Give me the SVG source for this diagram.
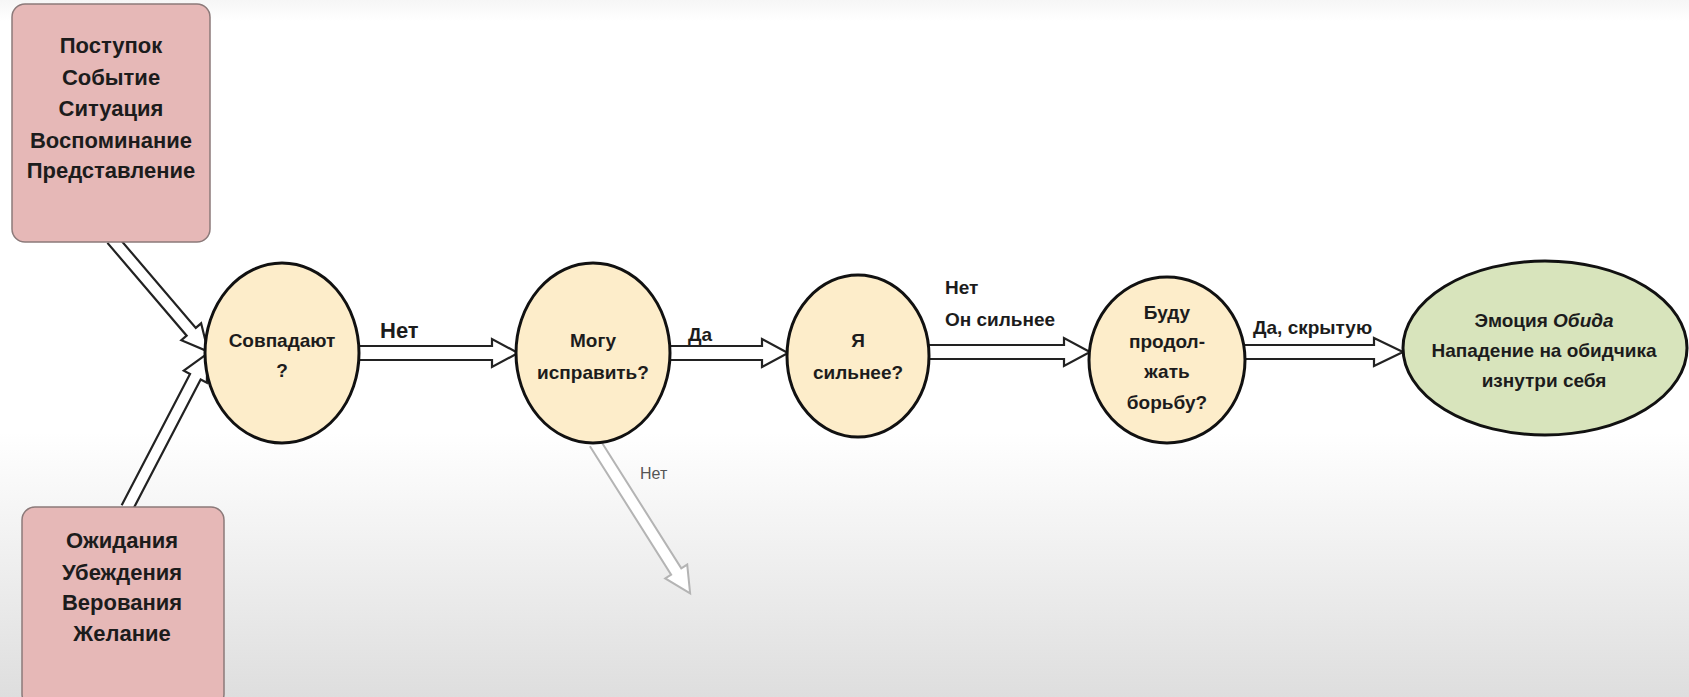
<svg xmlns="http://www.w3.org/2000/svg" width="1689" height="697" viewBox="0 0 1689 697">
<defs>
<linearGradient id="bg" x1="0" y1="0" x2="0" y2="1">
<stop offset="0" stop-color="#f6f6f6"/>
<stop offset="0.03" stop-color="#ffffff"/>
<stop offset="0.62" stop-color="#ffffff"/>
<stop offset="1" stop-color="#dedede"/>
</linearGradient>
</defs>
<style>
.t{font-family:"Liberation Sans",Arial,sans-serif;font-weight:bold;fill:#1c1c1c;text-anchor:middle;}
.box{fill:#e6b8b7;stroke:#8c7a7a;stroke-width:1.5;}
.q{fill:#fdedca;stroke:#111;stroke-width:3;}
.res{fill:#d8e4bc;stroke:#111;stroke-width:3;}
.arr{fill:#ffffff;stroke:#222;stroke-width:2.2;stroke-linejoin:miter;}
.garr{fill:#ffffff;stroke:#b4b4b4;stroke-width:2;}
.lbl{font-family:"Liberation Sans",Arial,sans-serif;font-weight:bold;fill:#1c1c1c;}
</style>
<rect x="0" y="0" width="1689" height="697" fill="url(#bg)"/>

<g id="connectors">
<path class="arr" transform="translate(112,239) rotate(49.5)" d="M0,-6 L122,-6 L122,-13 L148,0 L122,13 L122,6 L0,6"/>
<path class="arr" transform="translate(127,508) rotate(-62.5)" d="M0,-6 L148,-6 L148,-13 L174,0 L148,13 L148,6 L0,6"/>
<path class="arr" d="M359,346 L492,346 L492,339 L518,353 L492,367 L492,360 L359,360"/>
<path class="arr" d="M670,346 L762,346 L762,339 L788,353 L762,367 L762,360 L670,360"/>
<path class="arr" d="M929,345 L1064,345 L1064,338 L1090,352 L1064,366 L1064,359 L929,359"/>
<path class="arr" d="M1245,345 L1374,345 L1374,338 L1403,352 L1374,366 L1374,359 L1245,359"/>
<path class="garr" transform="translate(595,443) rotate(57.7)" d="M0,-6 L152,-6 L152,-13 L178,0 L152,13 L152,6 L0,6"/>
<text class="lbl" x="380" y="338" font-size="22">Нет</text>
<text class="lbl" x="688" y="341" font-size="19">Да</text>
<text class="lbl" x="945" y="294" font-size="19">Нет</text>
<text class="lbl" x="945" y="326" font-size="19">Он сильнее</text>
<text class="lbl" x="1253" y="334" font-size="19">Да, скрытую</text>
<text class="lbl" x="640" y="479" font-size="16" style="fill:#555;font-weight:normal">Нет</text>
</g>

<g id="n-top">
<rect class="box" x="12" y="4" width="198" height="238" rx="13"/>
<text class="t" font-size="22" x="111" y="53">Поступок</text>
<text class="t" font-size="22" x="111" y="85">Событие</text>
<text class="t" font-size="22" x="111" y="116">Ситуация</text>
<text class="t" font-size="22" x="111" y="148">Воспоминание</text>
<text class="t" font-size="22" x="111" y="178">Представление</text>
</g>

<g id="n-bottom">
<rect class="box" x="22" y="507" width="202" height="200" rx="13"/>
<text class="t" font-size="22" x="122" y="548">Ожидания</text>
<text class="t" font-size="22" x="122" y="580">Убеждения</text>
<text class="t" font-size="22" x="122" y="610">Верования</text>
<text class="t" font-size="22" x="122" y="641">Желание</text>
</g>

<g id="n-match">
<ellipse class="q" cx="282" cy="353" rx="77" ry="90"/>
<text class="t" font-size="19" x="282" y="347">Совпадают</text>
<text class="t" font-size="19" x="282" y="377">?</text>
</g>

<g id="n-fix">
<ellipse class="q" cx="593" cy="353" rx="77" ry="90"/>
<text class="t" font-size="19" x="593" y="347">Могу</text>
<text class="t" font-size="19" x="593" y="379">исправить?</text>
</g>

<g id="n-strong">
<ellipse class="q" cx="858" cy="356" rx="71" ry="81"/>
<text class="t" font-size="19" x="858" y="347">Я</text>
<text class="t" font-size="19" x="858" y="379">сильнее?</text>
</g>

<g id="n-fight">
<ellipse class="q" cx="1167" cy="360" rx="78" ry="83"/>
<text class="t" font-size="19" x="1167" y="319">Буду</text>
<text class="t" font-size="19" x="1167" y="348">продол-</text>
<text class="t" font-size="19" x="1167" y="378">жать</text>
<text class="t" font-size="19" x="1167" y="409">борьбу?</text>
</g>

<g id="n-result">
<ellipse class="res" cx="1545" cy="348" rx="142" ry="87"/>
<text class="t" font-size="19" x="1544" y="327">Эмоция <tspan font-style="italic">Обида</tspan></text>
<text class="t" font-size="19" x="1544" y="357">Нападение на обидчика</text>
<text class="t" font-size="19" x="1544" y="387">изнутри себя</text>
</g>
</svg>
